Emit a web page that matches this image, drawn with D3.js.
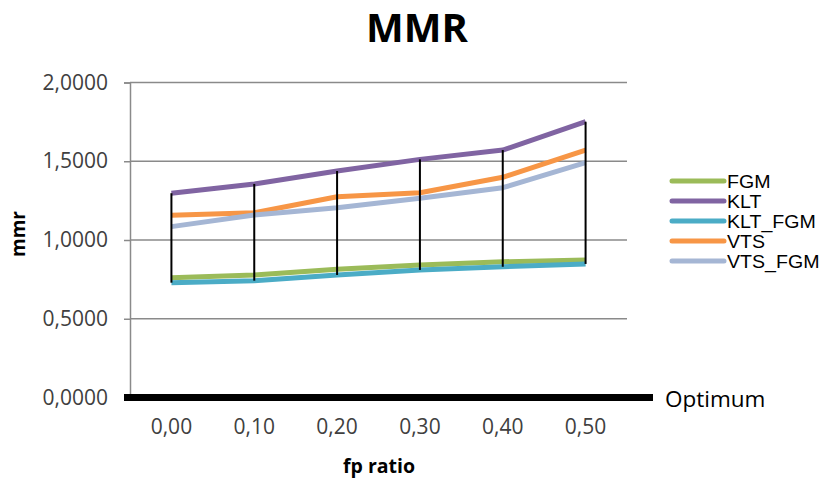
<!DOCTYPE html>
<html>
<head>
<meta charset="utf-8">
<script src="https://cdn.jsdelivr.net/npm/d3@7"></script>
<style>
  body { margin: 0; background: #fff; }
  svg { display: block; font-family: "Open Sans", "Liberation Sans", sans-serif; }
</style>
</head>
<body>
<svg id="chart" width="824" height="479"></svg>
<script>
// fp ratio categories and MMR per method
const categories = ["0,00", "0,10", "0,20", "0,30", "0,40", "0,50"];
const fgm    = [0.761, 0.778, 0.814, 0.841, 0.862, 0.873];
const klt    = [1.297, 1.356, 1.438, 1.512, 1.571, 1.751];
const kltFgm = [0.729, 0.742, 0.778, 0.810, 0.830, 0.848];
const vts    = [1.157, 1.173, 1.275, 1.300, 1.398, 1.571];
const vtsFgm = [1.085, 1.159, 1.205, 1.265, 1.332, 1.491];
const optimum = 0;
const yTicks = [0, 0.5, 1, 1.5, 2];

const series = [
  { name: "FGM",     values: fgm,    color: "#9bbb59" },
  { name: "KLT",     values: klt,    color: "#8064a2" },
  { name: "KLT_FGM", values: kltFgm, color: "#4bacc6" },
  { name: "VTS",     values: vts,    color: "#f79646" },
  { name: "VTS_FGM", values: vtsFgm, color: "#a5b6d4" }
];

const svg = d3.select("#chart");
const plotL = 130, plotR = 627, plotT = 82.5, plotB = 397.5;

const x = d3.scaleBand().domain(categories).range([plotL, plotR]);
const y = d3.scaleLinear().domain([0, 2]).range([plotB, plotT]);
const cx = c => x(c) + x.bandwidth() / 2;
const fmtY = v => d3.format(".4f")(v).replace(".", ",");

// title
svg.append("text")
  .attr("x", 417).attr("y", 42)
  .attr("text-anchor", "middle")
  .attr("font-size", 40).attr("font-weight", "bold").attr("fill", "#000")
  .text("MMR");

// horizontal gridlines
svg.append("g").selectAll("line").data(yTicks.filter(d => d > 0)).join("line")
  .attr("x1", plotL).attr("x2", plotR)
  .attr("y1", d => y(d)).attr("y2", d => y(d))
  .attr("stroke", "#8a8a8a").attr("stroke-width", 1.5);

// y axis
const yAxis = d3.axisLeft(y).tickValues(yTicks).tickSize(6).tickPadding(16).tickFormat(fmtY);
const gy = svg.append("g").attr("transform", `translate(${plotL},0)`).call(yAxis);
gy.select(".domain").attr("stroke", "#8a8a8a").attr("stroke-width", 1.5);
gy.selectAll(".tick line").attr("stroke", "#8a8a8a").attr("stroke-width", 1.5);
gy.selectAll(".tick text")
  .attr("font-size", 21).attr("fill", "#404040")
  .attr("font-family", "'Open Sans', sans-serif");

// x axis labels
const xAxis = d3.axisBottom(x).tickSize(0).tickPadding(22);
const gx = svg.append("g").attr("transform", `translate(0,${plotB})`).call(xAxis);
gx.select(".domain").remove();
gx.selectAll(".tick text")
  .attr("font-size", 21).attr("fill", "#404040")
  .attr("font-family", "'Open Sans', sans-serif");

// axis titles
svg.append("text")
  .attr("x", 379).attr("y", 473)
  .attr("text-anchor", "middle")
  .attr("font-size", 19.5).attr("font-weight", "bold").attr("fill", "#000")
  .text("fp ratio");
svg.append("text")
  .attr("transform", "translate(25,234) rotate(-90)")
  .attr("text-anchor", "middle")
  .attr("font-size", 19).attr("font-weight", "bold").attr("fill", "#000")
  .text("mmr");

// optimum reference line at zero
svg.append("line")
  .attr("x1", plotL - 6).attr("x2", 653)
  .attr("y1", y(optimum)).attr("y2", y(optimum))
  .attr("stroke", "#000").attr("stroke-width", 7);
svg.append("text")
  .attr("x", 665).attr("y", 407)
  .attr("font-size", 22.5).attr("fill", "#000")
  .text("Optimum");

// series lines
const line = d3.line().x((d, i) => cx(categories[i])).y(d => y(d));
svg.append("g").selectAll("path").data(series).join("path")
  .attr("d", s => line(s.values))
  .attr("fill", "none")
  .attr("stroke", s => s.color)
  .attr("stroke-width", 5)
  .attr("stroke-linejoin", "round");

// high-low lines per category
const hiLo = categories.map((c, i) => {
  const vals = series.map(s => s.values[i]);
  return { c, hi: d3.max(vals), lo: d3.min(vals) };
});
svg.append("g").selectAll("line").data(hiLo).join("line")
  .attr("x1", d => cx(d.c)).attr("x2", d => cx(d.c))
  .attr("y1", d => y(d.hi)).attr("y2", d => y(d.lo))
  .attr("stroke", "#000").attr("stroke-width", 2);

// legend: compact rows, slightly widened text
const legend = svg.append("g").attr("transform", "translate(672,181)");
const item = legend.selectAll("g").data(series).join("g")
  .attr("transform", (d, i) => `translate(0,${i * 20})`);
item.append("line")
  .attr("x1", 0).attr("x2", 52)
  .attr("stroke", d => d.color).attr("stroke-width", 5)
  .attr("stroke-linecap", "round");
item.append("text")
  .attr("transform", "translate(55,6.5) scale(1.12,1)")
  .attr("font-family", "'Liberation Sans', Arial, sans-serif")
  .attr("font-size", 17.5).attr("fill", "#000")
  .text(d => d.name);
</script>
</body>
</html>
